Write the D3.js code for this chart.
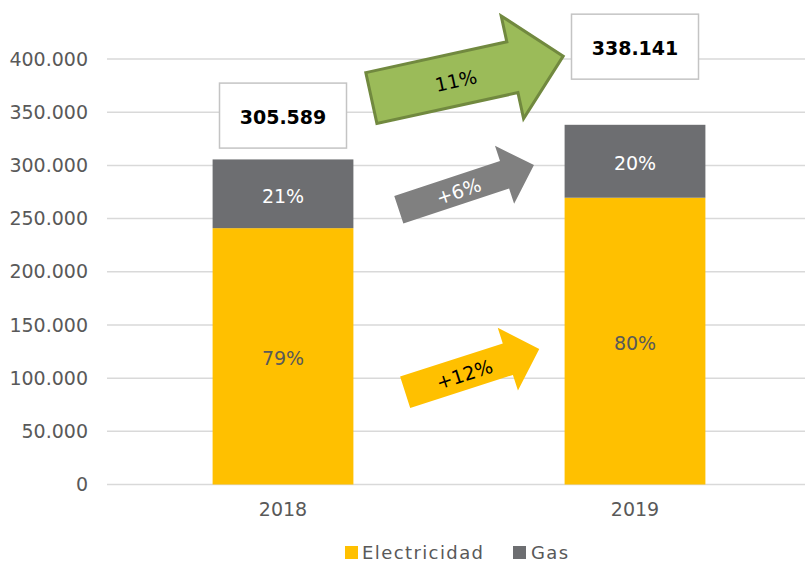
<!DOCTYPE html>
<html>
<head>
<meta charset="utf-8">
<script src="https://cdn.jsdelivr.net/npm/d3@7"></script>
<style>
  html, body { margin: 0; padding: 0; background: #fff; }
  svg { display: block; font-family: "DejaVu Sans", Verdana, sans-serif; }
</style>
</head>
<body>
<div id="chart"></div>
<script>
// datos
const years = ["2018", "2019"];
const electricidad = [240989, 269600];
const gas = [64600, 68541];
const series = ["Electricidad", "Gas"];
const yTicks = [0, 50000, 100000, 150000, 200000, 250000, 300000, 350000, 400000];

// tamaño y márgenes
const width = 805;
const height = 562;
const colors = { Electricidad: "#FFC000", Gas: "#6D6E71" };

const locale = d3.formatLocale({ decimal: ",", thousands: ".", grouping: [3], currency: ["", ""] });
const fmt = locale.format(",");

const svg = d3.select("#chart")
    .append("svg")
    .attr("width", width)
    .attr("height", height);

const x = d3.scaleBand()
    .domain(years)
    .range([107, 811])
    .paddingInner(0.6)
    .paddingOuter(0.3);

const y = d3.scaleLinear()
    .domain([0, 400000])
    .range([484.5, 59]);

// líneas de cuadrícula
svg.append("g")
    .selectAll("line")
    .data(yTicks)
    .enter()
    .append("line")
    .attr("x1", 107)
    .attr("x2", 811)
    .attr("y1", d => y(d))
    .attr("y2", d => y(d))
    .attr("stroke", "#d9d9d9")
    .attr("stroke-width", 1.5);

// eje y
const yAxis = svg.append("g")
    .attr("transform", "translate(107,0)")
    .call(d3.axisLeft(y).tickValues(yTicks).tickFormat(d => fmt(d)).tickSize(0).tickPadding(19));
yAxis.select(".domain").remove();
yAxis.selectAll("text")
    .attr("fill", "#595959")
    .style("font-size", "19px")
    .style("font-family", "DejaVu Sans, sans-serif");

// eje x
const xAxis = svg.append("g")
    .attr("transform", "translate(0,484.5)")
    .call(d3.axisBottom(x).tickSize(0).tickPadding(18));
xAxis.select(".domain").remove();
xAxis.selectAll("text")
    .attr("fill", "#595959")
    .style("font-size", "19px")
    .style("font-family", "DejaVu Sans, sans-serif");

// barras apiladas
const rows = years.map((yr, i) => ({ year: yr, Electricidad: electricidad[i], Gas: gas[i] }));
const stacked = d3.stack().keys(series)(rows);

const layers = svg.append("g")
    .selectAll("g")
    .data(stacked)
    .enter()
    .append("g")
    .attr("fill", d => colors[d.key]);

layers.selectAll("rect")
    .data(d => d)
    .enter()
    .append("rect")
    .attr("x", d => x(d.data.year))
    .attr("width", x.bandwidth())
    .attr("y", d => y(d[1]))
    .attr("height", d => y(d[0]) - y(d[1]));

// porcentajes dentro de las barras
layers.selectAll("text")
    .data(d => d.map(v => Object.assign({ key: d.key }, v)))
    .enter()
    .append("text")
    .attr("x", d => x(d.data.year) + x.bandwidth() / 2)
    .attr("y", d => (y(d[0]) + y(d[1])) / 2 + 2)
    .attr("text-anchor", "middle")
    .attr("dominant-baseline", "central")
    .attr("fill", d => d.key === "Gas" ? "#ffffff" : "#595959")
    .style("font-size", "19px")
    .text(d => Math.round((d[1] - d[0]) / (d.data.Electricidad + d.data.Gas) * 100) + "%");

// cajas con totales
const totals = rows.map(r => r.Electricidad + r.Gas);
const boxY = [346800, 411600]; // centro de la caja, en unidades del eje
const boxW = 127, boxH = 65;
const boxes = svg.append("g")
    .selectAll("g")
    .data(years)
    .enter()
    .append("g")
    .attr("transform", (d, i) => `translate(${x(d) + x.bandwidth() / 2},${y(boxY[i])})`);
boxes.append("rect")
    .attr("x", -boxW / 2)
    .attr("y", -boxH / 2)
    .attr("width", boxW)
    .attr("height", boxH)
    .attr("fill", "#fff")
    .attr("stroke", "#c4c4c4")
    .attr("stroke-width", 1.5);
boxes.append("text")
    .attr("text-anchor", "middle")
    .attr("dominant-baseline", "central")
    .attr("y", 1)
    .attr("fill", "#000")
    .style("font-size", "19px")
    .style("font-weight", "bold")
    .text((d, i) => fmt(totals[i]));

// flechas de crecimiento
const pct = (a, b) => Math.round((b / a - 1) * 100);
const c0 = x(years[0]) + x.bandwidth() / 2;
const c1 = x(years[1]) + x.bandwidth() / 2;
const arrows = [
    { label: pct(totals[0], totals[1]) + "%", t0: 0.251, v0: 363300, t1: 0.796, v1: 402700,
      shaft: 52, head: 105, headLen: 52, fill: "#9BBB59", stroke: "#71893F", text: "#000" },
    { label: "+" + pct(gas[0], gas[1]) + "%", t0: 0.329, v0: 258300, t1: 0.713, v1: 300300,
      shaft: 29, head: 61, headLen: 31, fill: "#808080", stroke: "none", text: "#fff" },
    { label: "+" + pct(electricidad[0], electricidad[1]) + "%", t0: 0.347, v0: 86700, t1: 0.728, v1: 127300,
      shaft: 33, head: 66, headLen: 33, fill: "#FFC000", stroke: "none", text: "#000" }
];

arrows.forEach(a => {
    const x0 = c0 + a.t0 * (c1 - c0), y0 = y(a.v0);
    const x1 = c0 + a.t1 * (c1 - c0), y1 = y(a.v1);
    const len = Math.hypot(x1 - x0, y1 - y0);
    const ang = Math.atan2(y1 - y0, x1 - x0) * 180 / Math.PI;
    const s = len - a.headLen;
    const pts = [
        [0, -a.shaft / 2], [s, -a.shaft / 2], [s, -a.head / 2], [len, 0],
        [s, a.head / 2], [s, a.shaft / 2], [0, a.shaft / 2]
    ];
    const g = svg.append("g")
        .attr("transform", `translate(${x0},${y0}) rotate(${ang})`);
    g.append("polygon")
        .attr("points", pts.map(p => p.join(",")).join(" "))
        .attr("fill", a.fill)
        .attr("stroke", a.stroke)
        .attr("stroke-width", 3)
        .attr("stroke-linejoin", "miter");
    g.append("text")
        .attr("x", len * 0.44)
        .attr("y", 1)
        .attr("text-anchor", "middle")
        .attr("dominant-baseline", "central")
        .attr("fill", a.text)
        .style("font-size", "19px")
        .text(a.label);
});

// leyenda
const legendX = [345, 513];
const legend = svg.append("g")
    .selectAll("g")
    .data(series)
    .enter()
    .append("g")
    .attr("transform", (d, i) => `translate(${legendX[i]},546)`);
legend.append("rect")
    .attr("width", 13)
    .attr("height", 13)
    .attr("fill", d => colors[d]);
legend.append("text")
    .attr("x", (d, i) => i === 0 ? 17 : 18)
    .attr("y", 13)
    .attr("fill", "#595959")
    .style("font-size", "18px")
    .style("letter-spacing", "1.4px")
    .text(d => d);
</script>
</body>
</html>
